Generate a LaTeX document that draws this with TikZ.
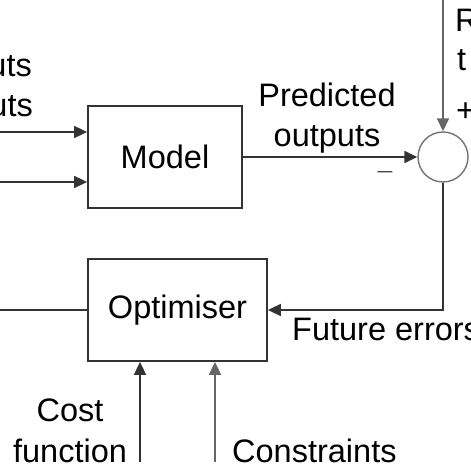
\documentclass[tikz,border=0pt]{standalone}
\usepackage{fontspec}
\setmainfont{Liberation Sans}
\usetikzlibrary{arrows.meta}
\begin{document}
\begin{tikzpicture}[x=1pt,y=1pt,
    font=\fontsize{32.5}{40}\selectfont,
    block/.style={draw=black!80,line width=1.8pt,inner sep=0pt},
    conn/.style={draw=black!80,line width=1.7pt},
    arr/.style={conn,-{Triangle[length=13pt,width=12pt]}},
    txt/.style={inner sep=0pt,anchor=base}]
    \useasboundingbox (0,0) rectangle (471,471);
    \clip (0,0) rectangle (471,471);

    % Place the blocks
    \node[block,minimum width=154pt,minimum height=102pt] (model) at (165,314) {Model};
    \node[block,minimum width=179pt,minimum height=102pt] (optim) at (177.5,161) {Optimiser};
    \node[circle,draw=black!55,line width=1.4pt,minimum size=50pt,inner sep=0pt] (sum) at (443,314) {};

    % Free ends
    \coordinate (in1) at (0,339);
    \coordinate (in2) at (0,289);
    \coordinate (ref) at (443,471);
    \coordinate (out) at (0,161);
    \coordinate (cost) at (140,9);
    \coordinate (cons) at (215,9);

    % The labels
    \node[txt,anchor=base east] (l1) at (32,394) {uts};
    \node[txt,anchor=base east] (l2) at (33,354) {uts};
    \node[txt] (pred1) at (327,364) {Predicted};
    \node[txt] (pred2) at (327,324) {outputs};
    \node (minus) at (385,299) {$-$};
    \node[txt,anchor=base west] (r1) at (455,439) {R};
    \node[txt,anchor=base west] (r2) at (457,400) {t};
    \node[txt,anchor=base west] (plus) at (456,349) {+};
    \node[txt,anchor=base west] (fut) at (292,130) {Future errors};
    \node[txt] (cost1) at (70,49) {Cost};
    \node[txt] (cost2) at (70,9) {function};
    \node[txt,anchor=base west] (cons1) at (232,9) {Constraints};

    % The lines!
    \draw[arr] (in1) -- (in1 -| model.west);
    \draw[arr] (in2) -- (in2 -| model.west);
    \draw[arr] (model.east) -- (sum.west);
    \draw[arr,draw=black!60] (ref) -- (sum.north);
    \draw[arr] (sum.south) |- (optim.east);
    \draw[conn] (optim.west) -- (out);
    \draw[arr] (cost) -- (cost |- optim.south);
    \draw[arr,draw=black!60] (cons) -- (cons |- optim.south);
\end{tikzpicture}
\end{document}
